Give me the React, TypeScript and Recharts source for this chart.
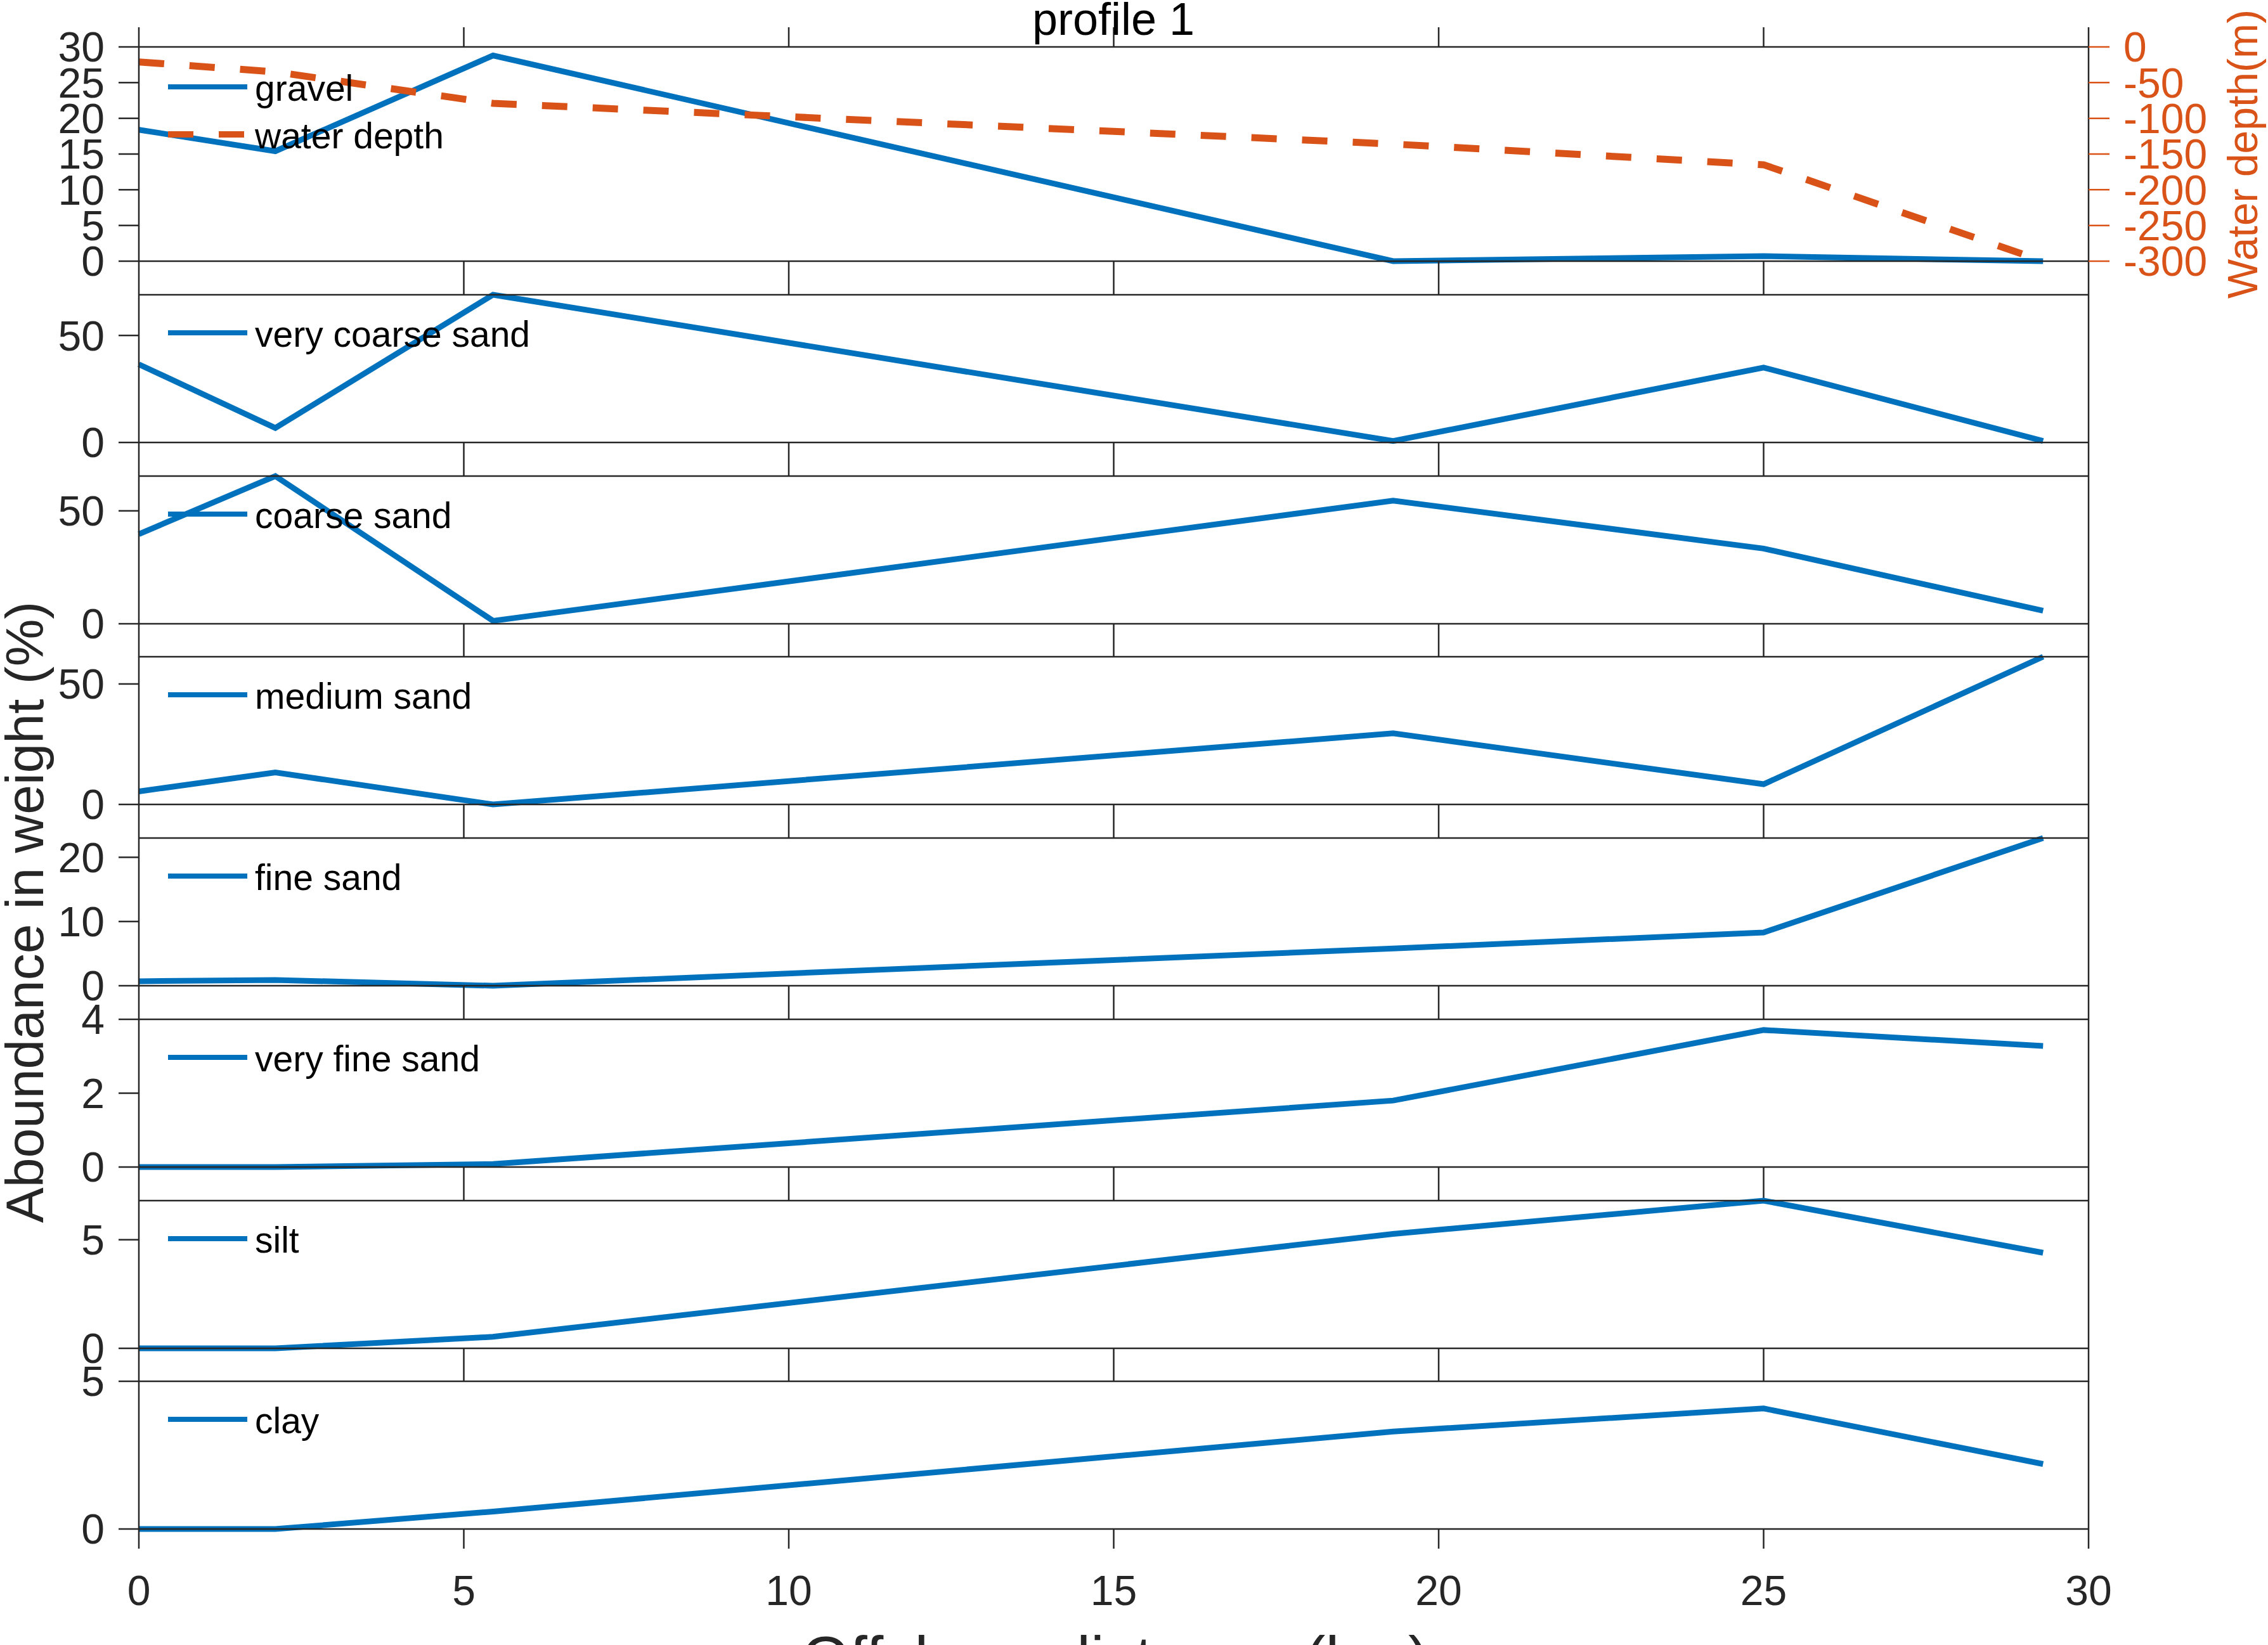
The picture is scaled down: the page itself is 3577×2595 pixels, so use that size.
import { LineChart, Line, XAxis, YAxis, Legend } from "recharts";

// offshore distance of the sampling stations (km)
const distance = [0, 2.1, 5.45, 19.3, 25, 29.3];

// abundance in weight (%)
const gravel = [18.4, 15.4, 28.8, 0, 0.7, 0];
const veryCoarseSand = [36.5, 6.8, 69, 0.7, 35, 0.7];
const coarseSand = [39.7, 65.4, 1.3, 54.5, 33.3, 5.8];
const mediumSand = [5.4, 13.3, 0, 29.5, 8.4, 61.3];
const fineSand = [0.7, 0.9, 0, 5.8, 8.3, 23];
const veryFineSand = [0, 0, 0.08, 1.8, 3.71, 3.28];
const silt = [0, 0, 0.53, 5.27, 6.8, 4.4];
const clay = [0, 0, 0.59, 3.3, 4.08, 2.2];

// water depth (m)
const waterDepth = [-21, -35, -79, -136, -165, -300];

const xTicks = [0, 5, 10, 15, 20, 25, 30];
const depthTicks = [-300, -250, -200, -150, -100, -50, 0];
const gravelTicks = [0, 5, 10, 15, 20, 25, 30];

const BLUE = "#0072BD";
const ORANGE = "#D95319";
const AX = "#262626";
const FONT = "'Liberation Sans', Arial, Helvetica, sans-serif";

const W = 3577;
const PAD_TOP = 60;
const LEFT_W = 200;
const LEFT_M = 19; // plot left edge at 219
const RIGHT_W = 263;
const RIGHT_M = 20; // plot right edge at 3294

const noLabel = () => "";

type Item = { name: string; color: string; width: number; dash?: string };

function LegendBox({ items, y0 }: { items: Item[]; y0: number }) {
  return (
    <svg width={1200} height={y0 + items.length * 75 + 40} style={{ display: "block" }}>
      {items.map((it, i) => {
        const y = y0 + i * 75;
        return (
          <g key={it.name}>
            <line x1={265} x2={390} y1={y} y2={y} stroke={it.color} strokeWidth={it.width} strokeDasharray={it.dash} />
            <text x={402} y={y + 22} fontSize={57} fontFamily={FONT} fill="#000">
              {it.name}
            </text>
          </g>
        );
      })}
    </svg>
  );
}

type PanelProps = {
  top: number;
  height: number;
  name: string;
  values: number[];
  domain: [number, number];
  ticks: number[];
  first?: boolean;
  last?: boolean;
  depth?: number[];
};

function Panel({ top, height, name, values, domain, ticks, first, last, depth }: PanelProps) {
  const bottomH = last ? 170 : 60;
  const data = distance.map((x, i) => ({ x, v: values[i], d: depth ? depth[i] : undefined }));
  const tickStyle = { fontSize: 66, fill: AX, fontFamily: FONT };
  const axStroke = { stroke: AX, strokeWidth: 2.5 };
  const items: Item[] = [{ name, color: BLUE, width: 8 }];
  if (depth) items.push({ name: "water depth", color: ORANGE, width: 10, dash: "40 40" });

  return (
    <div style={{ position: "absolute", left: 0, top: top - PAD_TOP }}>
      <LineChart
        width={W}
        height={PAD_TOP + height + bottomH}
        data={data}
        margin={{ top: 20, right: RIGHT_M, bottom: 0, left: LEFT_M }}
      >
        <XAxis
          xAxisId="t"
          orientation="top"
          type="number"
          dataKey="x"
          domain={[0, 30]}
          ticks={xTicks}
          height={40}
          axisLine={axStroke}
          tickLine={first ? axStroke : false}
          tickSize={31}
          tick={tickStyle}
          tickFormatter={noLabel}
        />
        <XAxis
          xAxisId="b"
          type="number"
          dataKey="x"
          domain={[0, 30]}
          ticks={xTicks}
          height={bottomH}
          axisLine={axStroke}
          tickLine={axStroke}
          tickSize={last ? 31 : 53}
          tickMargin={42}
          tick={tickStyle}
          tickFormatter={last ? undefined : noLabel}
        />
        <YAxis
          yAxisId="l"
          type="number"
          domain={domain}
          ticks={ticks}
          interval={0}
          width={LEFT_W}
          axisLine={axStroke}
          tickLine={axStroke}
          tickSize={32}
          tickMargin={22}
          tick={tickStyle}
        />
        <YAxis
          yAxisId="r"
          orientation="right"
          type="number"
          domain={depth ? [-300, 0] : domain}
          ticks={depth ? depthTicks : ticks}
          interval={0}
          width={RIGHT_W}
          axisLine={axStroke}
          tickLine={depth ? { stroke: ORANGE, strokeWidth: 2.5 } : axStroke}
          tickSize={depth ? 33 : 31}
          tickMargin={22}
          tick={depth ? { ...tickStyle, fill: ORANGE } : tickStyle}
          tickFormatter={depth ? undefined : noLabel}
        />
        <Line
          xAxisId="b"
          yAxisId="l"
          type="linear"
          dataKey="v"
          stroke={BLUE}
          strokeWidth={9}
          dot={false}
          isAnimationActive={false}
        />
        {depth && (
          <Line
            xAxisId="b"
            yAxisId="r"
            type="linear"
            dataKey="d"
            stroke={ORANGE}
            strokeWidth={11}
            strokeDasharray="40 40"
            dot={false}
            isAnimationActive={false}
          />
        )}
        <Legend
          layout="vertical"
          align="center"
          verticalAlign="middle"
          wrapperStyle={{ left: 0, top: 0, width: 1200 }}
          content={() => <LegendBox items={items} y0={PAD_TOP + (first ? 63 : 60)} />}
        />
      </LineChart>
    </div>
  );
}

const STEP = 285.7;
const TOP2 = 465;
const H = 233;

export default function App() {
  return (
    <div
      style={{
        position: "absolute",
        left: 0,
        top: 0,
        width: W,
        height: 2595,
        overflow: "hidden",
        background: "#fff",
        fontFamily: FONT,
      }}
    >
      <Panel top={74} height={338} name="gravel" values={gravel} domain={[0, 30]} ticks={gravelTicks} depth={waterDepth} first />
      <Panel top={TOP2} height={H} name="very coarse sand" values={veryCoarseSand} domain={[0, 69]} ticks={[0, 50]} />
      <Panel top={TOP2 + STEP} height={H} name="coarse sand" values={coarseSand} domain={[0, 65.4]} ticks={[0, 50]} />
      <Panel top={TOP2 + STEP * 2} height={H} name="medium sand" values={mediumSand} domain={[0, 61.3]} ticks={[0, 50]} />
      <Panel top={TOP2 + STEP * 3} height={H} name="fine sand" values={fineSand} domain={[0, 23]} ticks={[0, 10, 20]} />
      <Panel top={TOP2 + STEP * 4} height={H} name="very fine sand" values={veryFineSand} domain={[0, 4]} ticks={[0, 2, 4]} />
      <Panel top={TOP2 + STEP * 5} height={H} name="silt" values={silt} domain={[0, 6.8]} ticks={[0, 5]} />
      <Panel top={TOP2 + STEP * 6} height={H} name="clay" values={clay} domain={[0, 5]} ticks={[0, 5]} last />

      {/* titles and axis labels */}
      <svg width={W} height={2595} style={{ position: "absolute", left: 0, top: 0, pointerEvents: "none" }}>
        <text x={1756} y={55} textAnchor="middle" fontSize={72} fontFamily={FONT} fill="#000">
          profile 1
        </text>
        <text
          transform="translate(68,1439) rotate(-90)"
          textAnchor="middle"
          fontSize={84}
          fontFamily={FONT}
          fill={AX}
        >
          Aboundance in weight (%)
        </text>
        <text
          transform="translate(3560,243) rotate(-90)"
          textAnchor="middle"
          fontSize={66}
          fontFamily={FONT}
          fill={ORANGE}
        >
          Water depth(m)
        </text>
        <text x={1759} y={2650} textAnchor="middle" fontSize={98} fontFamily={FONT} fill={AX}>
          Offshore distance (km)
        </text>
      </svg>
    </div>
  );
}
